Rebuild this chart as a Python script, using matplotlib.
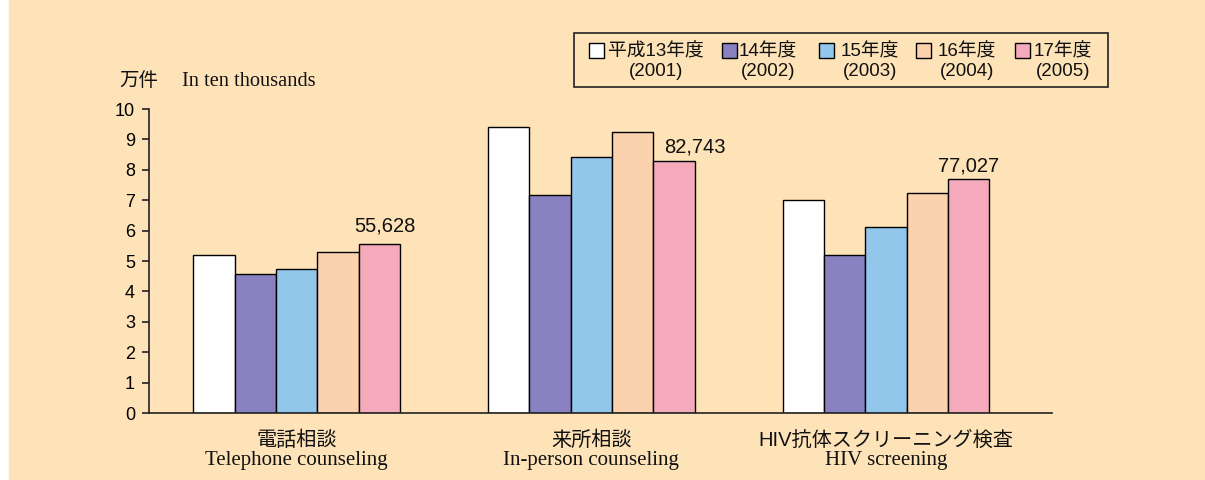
import numpy as np
import matplotlib
matplotlib.use('Agg')
import matplotlib.pyplot as plt
from matplotlib.patches import Rectangle
from matplotlib.transforms import Affine2D

plt.rcParams['font.family'] = ['Liberation Sans', 'Noto Sans CJK JP']

# data (万件 = units of 10,000 cases)
categories_jp = ['電話相談', '来所相談', 'HIV抗体スクリーニング検査']
categories_en = ['Telephone counseling', 'In-person counseling', 'HIV screening']
years_jp = ['平成13年度', '14年度', '15年度', '16年度', '17年度']
years_ad = ['(2001)', '(2002)', '(2003)', '(2004)', '(2005)']
v2001 = [5.20, 9.40, 7.01]
v2002 = [4.57, 7.17, 5.20]
v2003 = [4.74, 8.43, 6.12]
v2004 = [5.30, 9.23, 7.24]
v2005 = [5.5628, 8.2743, 7.7027]
latest_labels = ['55,628', '82,743', '77,027']

series = [v2001, v2002, v2003, v2004, v2005]
colors = ['#FFFFFF', '#8A82C0', '#92C6EA', '#FBD2AE', '#F5AABB']
bg = '#FEE3B8'

W, H = 1205, 480
fig = plt.figure(figsize=(W / 100, H / 100), dpi=100, facecolor='white')
# pixel coordinates, origin top-left
px = Affine2D().scale(1 / W, -1 / H).translate(0, 1) + fig.transFigure
fig.patches.append(Rectangle((9, 0), W - 9, H, transform=px, color=bg, zorder=-10))

ax = fig.add_axes([149 / W, 67 / H, 903 / W, 304 / H])
ax.set_facecolor('none')

x = np.arange(len(categories_jp))
width = 0.1402
for i, (vals, c) in enumerate(zip(series, colors)):
    ax.bar(x + (i - 2) * width, vals, width, color=c, edgecolor='black', linewidth=1.0)

# value labels above latest year
offsets = [(4, 9), (15, 6.5), (0, 5)]
for xi, v, lab, (dx, dy) in zip(x, v2005, latest_labels, offsets):
    ax.annotate(lab, (xi + 2 * width, v), xytext=(dx, dy), textcoords='offset points',
                ha='center', va='baseline', fontsize=14.5, color='#111111')

ax.set_xlim(-0.5005, 2.563)
ax.set_ylim(0, 10)
ax.set_yticks(range(0, 11))
ax.set_xticks([])
for s in ['top', 'right']:
    ax.spines[s].set_visible(False)
for s in ['left', 'bottom']:
    ax.spines[s].set_linewidth(1.2)
    ax.spines[s].set_color('#222222')
ax.tick_params(axis='y', direction='out', length=5, width=1.2, labelsize=13, pad=5,
               color='#222222')

# category labels
for xi, jp, en in zip(x, categories_jp, categories_en):
    ax.text(xi, -27 / 304, jp, transform=ax.get_xaxis_transform(), ha='center', va='center',
            fontsize=14.5, color='#111111')
    ax.text(xi, -48 / 304, en, transform=ax.get_xaxis_transform(), ha='center', va='center',
            fontsize=15, family=['Liberation Serif'], color='#111111')

# y unit label
fig.text(119, 81, '万件', transform=px, ha='left', va='center', fontsize=14, color='#111111')
fig.text(182, 82, 'In ten thousands', transform=px, ha='left', va='center', fontsize=14.7,
         family=['Liberation Serif'], color='#111111')

# legend box
fig.patches.append(Rectangle((574, 33), 534, 54, transform=px, facecolor='none',
                             edgecolor='#222222', linewidth=1.2))
sq_left = [589, 722, 819, 916, 1015]
txt_left = [608, 739, 841, 938, 1034]
for c, sx, tx, jp, ad in zip(colors, sq_left, txt_left, years_jp, years_ad):
    fig.patches.append(Rectangle((sx, 43), 15, 15, transform=px, facecolor=c,
                                 edgecolor='black', linewidth=1.0))
    fig.text(tx, 61.5, jp + '\n' + ad, transform=px, ha='left', va='center',
             multialignment='center', linespacing=1.15, fontsize=13.5, color='#111111')

fig.savefig('out.png', dpi=100, facecolor=fig.get_facecolor())
